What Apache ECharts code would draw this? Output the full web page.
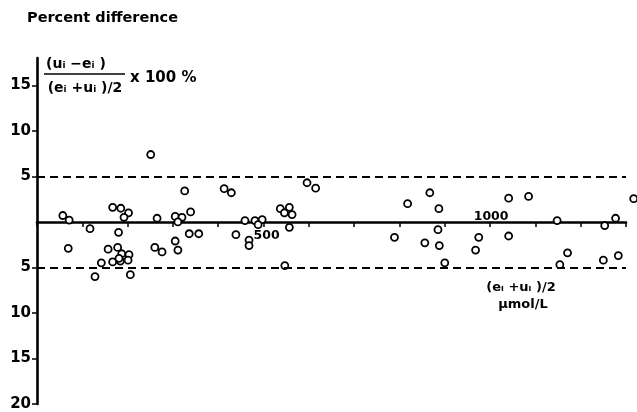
<!DOCTYPE html>
<html>
<head>
<meta charset="utf-8">
<style>
html, body { margin: 0; padding: 0; background: #fff; }
#main { width: 637px; height: 412px; }
</style>
</head>
<body>
<div id="main"></div>
<script src="https://cdn.jsdelivr.net/npm/echarts@6/dist/echarts.min.js"></script>
<script type="text/javascript">
// mean concentration (umol/L) and percent difference
var meanConc = [57, 71, 117, 69, 128, 142, 157, 167, 185, 202,
                192, 180, 178, 187, 203, 167, 184, 201, 181, 206,
                251, 326, 265, 305, 320, 339, 311, 336, 357, 260,
                276, 305, 311, 413, 429, 439, 459, 481, 497, 488,
                468, 468, 537, 557, 546, 563, 557, 547, 596, 615,
                818, 867, 789, 856, 887, 885, 888, 900, 1041, 1085,
                975, 968, 1041, 1148, 1253, 1277, 1317, 1171, 1154, 1250,
                1283];
var pctDiff = [0.7, 0.2, -0.75, -2.9, -6.0, -4.5, -3.0, 1.6, 1.5, 1.0,
               0.5, -1.15, -2.8, -3.5, -3.6, -4.4, -4.3, -4.2, -4.0, -5.8,
               7.4, 3.4, 0.4, 0.6, 0.5, 1.1, 0.0, -1.3, -1.3, -2.8,
               -3.3, -2.1, -3.1, 3.65, 3.2, -1.4, 0.15, 0.15, 0.25, -0.3,
               -2.0, -2.6, 1.45, 1.6, 1.0, 0.8, -0.6, -4.8, 4.3, 3.7,
               2.0, 3.2, -1.7, -2.3, 1.45, -0.85, -2.6, -4.5, 2.6, 2.8,
               -1.7, -3.1, -1.55, 0.15, -0.4, 0.4, 2.55, -3.4, -4.7, -4.2,
               -3.7];
var limits = [5, -5];
var yTicks = [-20, -15, -10, -5, 5, 10, 15];
var xLabels = [500, 1000];

var font = 'DejaVu Sans';
var myChart = echarts.init(document.getElementById('main'));

var points = [];
for (var i = 0; i < meanConc.length; i++) {
    points.push([meanConc[i], pctDiff[i]]);
}
var limitLines = [];
for (var j = 0; j < limits.length; j++) {
    limitLines.push({ yAxis: limits[j] });
}

var option = {
    animation: false,
    backgroundColor: '#fff',
    grid: { left: 37, right: 11, top: 58, bottom: 8 },
    xAxis: {
        type: 'value',
        min: 0,
        max: 1300,
        interval: 100,
        axisLine: { onZero: true, lineStyle: { color: '#000', width: 2.6 } },
        axisTick: { show: true, length: 5, lineStyle: { color: '#000', width: 1.5 } },
        axisLabel: { show: false },
        splitLine: { show: false }
    },
    yAxis: {
        type: 'value',
        min: -20,
        max: 18,
        interval: 5,
        axisLine: { onZero: false, lineStyle: { color: '#000', width: 2.6 } },
        axisTick: { show: true, length: 5, customValues: yTicks, lineStyle: { color: '#000', width: 1.5 } },
        axisLabel: {
            customValues: yTicks,
            margin: 6,
            color: '#000',
            fontFamily: font,
            fontWeight: 'bold',
            fontSize: 15,
            formatter: function (v) { return String(Math.abs(v)); }
        },
        splitLine: { show: false }
    },
    series: [{
        type: 'scatter',
        data: points,
        clip: false,
        symbol: 'circle',
        symbolSize: 7,
        itemStyle: { color: '#fff', borderColor: '#000', borderWidth: 1.8, opacity: 1 },
        markLine: {
            silent: true,
            symbol: 'none',
            label: { show: false },
            lineStyle: { color: '#000', width: 1.8, type: [8, 5] },
            data: limitLines
        }
    }]
};
myChart.setOption(option);

// texts: title, formula, unit and the two x values on the zero line
var graphics = [
    { type: 'text', left: 27, top: 11, style: { text: 'Percent difference', fill: '#000', font: 'bold 14.5px "' + font + '"' } },
    { type: 'text', x: 76, y: 64, style: { text: '(uᵢ −eᵢ )', fill: '#000', font: 'bold 14px "' + font + '"', align: 'center', verticalAlign: 'middle' } },
    { type: 'line', shape: { x1: 44, y1: 74, x2: 125, y2: 74 }, style: { stroke: '#000', lineWidth: 1.5 } },
    { type: 'text', x: 85, y: 88, style: { text: '(eᵢ +uᵢ )/2', fill: '#000', font: 'bold 14px "' + font + '"', align: 'center', verticalAlign: 'middle' } },
    { type: 'text', x: 130, y: 78, style: { text: 'x 100 %', fill: '#000', font: 'bold 15px "' + font + '"', align: 'left', verticalAlign: 'middle' } },
    { type: 'text', x: 521, y: 288, style: { text: '(eᵢ +uᵢ )/2', fill: '#000', font: 'bold 13px "' + font + '"', align: 'center', verticalAlign: 'middle' } },
    { type: 'text', x: 523, y: 305, style: { text: 'μmol/L', fill: '#000', font: 'bold 13px "' + font + '"', align: 'center', verticalAlign: 'middle' } }
];
var p500 = myChart.convertToPixel({ gridIndex: 0 }, [xLabels[0], 0]);
var p1000 = myChart.convertToPixel({ gridIndex: 0 }, [xLabels[1], 0]);
graphics.push({ type: 'text', x: p500[0] + 3, y: p500[1] + 14, style: { text: String(xLabels[0]), fill: '#000', font: 'bold 12.5px "' + font + '"', align: 'center', verticalAlign: 'middle' } });
graphics.push({ type: 'text', x: p1000[0] + 1, y: p1000[1] - 5, style: { text: String(xLabels[1]), fill: '#000', font: 'bold 12.5px "' + font + '"', align: 'center', verticalAlign: 'middle' } });
myChart.setOption({ graphic: graphics });
</script>
</body>
</html>
